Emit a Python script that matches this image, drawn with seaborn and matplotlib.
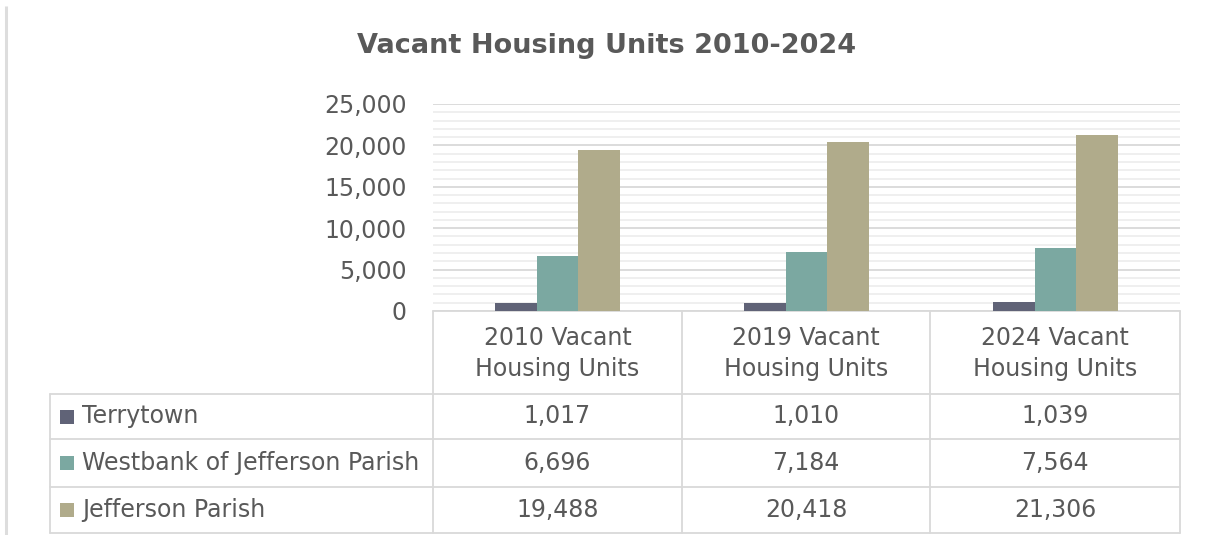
import matplotlib
matplotlib.use("Agg")
import matplotlib.pyplot as plt
from matplotlib.ticker import MultipleLocator, FuncFormatter
from matplotlib.patches import Rectangle
import seaborn as sns
import pandas as pd

# ---- data ----
categories = ["2010 Vacant\nHousing Units", "2019 Vacant\nHousing Units", "2024 Vacant\nHousing Units"]
series_names = ["Terrytown", "Westbank of Jefferson Parish", "Jefferson Parish"]
terrytown = [1017, 1010, 1039]
westbank = [6696, 7184, 7564]
jefferson = [19488, 20418, 21306]
title = "Vacant Housing Units 2010-2024"
y_ticks = [0, 5000, 10000, 15000, 20000, 25000]

colors = ["#606377", "#7ba8a1", "#b0ab8b"]
text_col = "#595959"
grid_major = "#d9d9d9"
grid_minor = "#ebebeb"
line_col = "#d9d9d9"

values = [terrytown, westbank, jefferson]
rows = []
for s, vals in zip(series_names, values):
    for c, v in zip(categories, vals):
        rows.append({"period": c, "series": s, "value": v})
df = pd.DataFrame(rows)

sns.set_theme(style="white")
plt.rcParams["font.family"] = ["DejaVu Sans"]

W, H = 1206, 535
fig = plt.figure(figsize=(W / 100, H / 100), dpi=100)
fig.patch.set_facecolor("white")

# plot area in pixel coords
px_l, px_r, px_t, px_b = 433, 1180, 104, 311
ax = fig.add_axes([px_l / W, (H - px_b) / H, (px_r - px_l) / W, (px_b - px_t) / H])
sns.barplot(data=df, x="period", y="value", hue="series", order=categories,
            hue_order=series_names, palette=colors, width=0.5, saturation=1,
            ax=ax, legend=False, linewidth=0)
ax.set_xlim(-0.5, len(categories) - 0.5)
ax.set_ylim(0, 25000)
ax.yaxis.set_major_locator(MultipleLocator(5000))
ax.yaxis.set_minor_locator(MultipleLocator(1000))
ax.set_yticks(y_ticks)
ax.yaxis.set_major_formatter(FuncFormatter(lambda v, p: f"{int(v):,}"))
ax.grid(True, axis="y", which="major", color=grid_major, linewidth=1.3, zorder=0)
ax.grid(True, axis="y", which="minor", color=grid_minor, linewidth=1.1, zorder=0)
ax.set_axisbelow(True)
ax.tick_params(axis="y", which="both", length=0, labelsize=17, labelcolor=text_col, pad=19)
ax.tick_params(axis="x", length=0)
ax.set_xticklabels([])
ax.set_xlabel("")
ax.set_ylabel("")
for sp in ax.spines.values():
    sp.set_visible(False)
ax.patch.set_alpha(0)

# overlay in pixel coordinates for title, table, border
ov = fig.add_axes([0, 0, 1, 1], zorder=-1)
ov.set_xlim(0, W)
ov.set_ylim(H, 0)
ov.axis("off")

ov.text(607, 46, title, ha="center", va="center", fontsize=19.5, fontweight="bold", color=text_col)

# left border line
ov.plot([5.5, 5.5], [6, H], color="#dddddd", linewidth=2.2, solid_capstyle="butt")

col_x = [433, 682, 930, 1180]
row_y = [311, 394, 439, 487, 533]
lab_l = 50
lw = 1.3

# horizontal lines
ov.plot([col_x[0], col_x[-1]], [row_y[0], row_y[0]], color=line_col, lw=lw)
for y in row_y[1:]:
    ov.plot([lab_l, col_x[-1]], [y, y], color=line_col, lw=lw)
# vertical lines
for x in col_x:
    ov.plot([x, x], [row_y[0], row_y[-1]], color=line_col, lw=lw)
ov.plot([lab_l, lab_l], [row_y[1], row_y[-1]], color=line_col, lw=lw)

fs = 17
# header text
for i, c in enumerate(categories):
    cx = (col_x[i] + col_x[i + 1]) / 2
    ov.text(cx, (row_y[0] + row_y[1]) / 2 + 1, c, ha="center", va="center",
            fontsize=fs, color=text_col, linespacing=1.4)

# rows
for r, (s, vals, colr) in enumerate(zip(series_names, values, colors)):
    cy = (row_y[r + 1] + row_y[r + 2]) / 2
    ov.add_patch(Rectangle((60, cy - 7), 14, 14, facecolor=colr, edgecolor="none"))
    ov.text(82, cy, s, ha="left", va="center", fontsize=fs, color=text_col)
    for i, v in enumerate(vals):
        cx = (col_x[i] + col_x[i + 1]) / 2
        ov.text(cx, cy, f"{v:,}", ha="center", va="center", fontsize=fs, color=text_col)

fig.savefig("out.png", dpi=100, facecolor="white")
